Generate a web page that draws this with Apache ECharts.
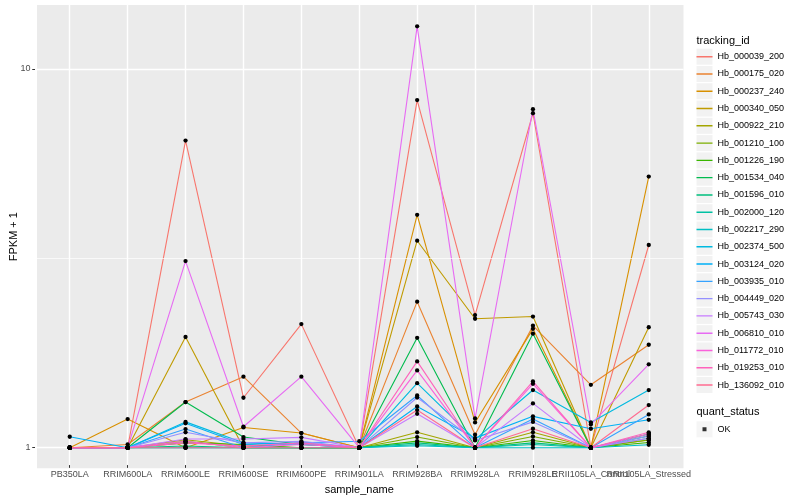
<!DOCTYPE html>
<html><head><meta charset="utf-8">
<script src="https://cdn.jsdelivr.net/npm/echarts@6/dist/echarts.min.js"></script>
<style>html,body{margin:0;padding:0;background:#fff}#c{width:800px;height:500px}</style>
</head><body><div id="c"></div>
<script>
// ---------- data ----------
const categories = ['PB350LA','RRIM600LA','RRIM600LE','RRIM600SE','RRIM600PE','RRIM901LA','RRIM928BA','RRIM928LA','RRIM928LE','RRII105LA_Control','RRII105LA_Stressed'];
const seriesNames = ['Hb_000039_200','Hb_000175_020','Hb_000237_240','Hb_000340_050','Hb_000922_210','Hb_001210_100','Hb_001226_190','Hb_001534_040','Hb_001596_010','Hb_002000_120','Hb_002217_290','Hb_002374_500','Hb_003124_020','Hb_003935_010','Hb_004449_020','Hb_005743_030','Hb_006810_010','Hb_011772_010','Hb_019253_010','Hb_136092_010'];
const seriesColors = ['#F8766D','#EA8331','#D89000','#C09B00','#A3A500','#7CAE00','#39B600','#00BB4E','#00BF7D','#00C1A3','#00BFC4','#00BAE0','#00B0F6','#35A2FF','#9590FF','#C77CFF','#E76BF3','#FA62DB','#FF62BC','#FF6C91'];
const yTickValues = [1, 10];
const yTickLabels = ['1', '10'];
const quantStatus = ['OK'];

const s01 = [1, 1, 6.47, 1.355, 2.12, 1, 8.28, 2.24, 7.64, 1, 3.43];
const s02 = [1, 1.02, 1.32, 1.54, 1.093, 1, 2.43, 1.082, 2.1, 1.466, 1.87];
const s03 = [1, 1.19, 1.0, 1.131, 1.093, 1, 4.12, 1.166, 2.06, 1, 5.2];
const s04 = [1, 1, 1.96, 1.0, 1.0, 1, 3.52, 2.19, 2.22, 1, 2.08];
const s05 = [1, 1, 1.05, 1.01, 1.0, 1, 1.098, 1.0, 1.098, 1, 1.048];
const s06 = [1, 1, 1.04, 1.0, 1.0, 1, 1.067, 1.0, 1.071, 1, 1.048];
const s07 = [1, 1, 1.03, 1.02, 1.0, 1, 1.041, 1.0, 1.045, 1, 1.032];
const s08 = [1, 1, 1.32, 1.067, 1.02, 1, 1.95, 1.0, 2.0, 1, 1.087];
const s09 = [1, 1, 1.01, 1.0, 1.0, 1, 1.03, 1.0, 1.03, 1, 1.074];
const s10 = [1, 1, 1.0, 1.0, 1.0, 1, 1.02, 1.0, 1.02, 1, 1.059];
const s11 = [1, 1, 1.0, 1.0, 1.0, 1, 1.012, 1.0, 1.0, 1, 1.018];
const s12 = [1, 1, 1.17, 1.03, 1.02, 1, 1.48, 1.05, 1.42, 1.166, 1.42];
const s13 = [1.069, 1, 1.16, 1.02, 1.03, 1, 1.285, 1.06, 1.21, 1.122, 1.185];
const s14 = [1, 1, 1.12, 1.0, 1.03, 1.04, 1.374, 1.0, 1.19, 1, 1.224];
const s15 = [1, 1, 1.098, 1.03, 1.04, 1, 1.357, 1.045, 1.17, 1, 1.074];
const s16 = [1, 1, 1.054, 1.054, 1.065, 1, 1.229, 1.0, 1.309, 1, 1.059];
const s17 = [1, 1, 3.11, 1.136, 1.54, 1, 12.96, 1.195, 7.83, 1.152, 1.66];
const s18 = [1, 1, 1.04, 1.0, 1.02, 1, 1.60, 1.0, 1.475, 1, 1.087];
const s19 = [1, 1, 1.03, 1.01, 1.03, 1, 1.69, 1.0, 1.496, 1, 1.098];
const s20 = [1, 1, 1.0, 1.0, 1.0, 1, 1.257, 1.0, 1.122, 1, 1.296];
const seriesValues = [s01,s02,s03,s04,s05,s06,s07,s08,s09,s10,s11,s12,s13,s14,s15,s16,s17,s18,s19,s20];

// ---------- layout ----------
const FONT = '"Liberation Sans", Arial, sans-serif';
const panel = {left: 35, right: 683.5, top: 5, bottom: 468.3};
const yOne = 447.7, yTen = 69;
const decade = yOne - yTen;
const step = (panel.right - panel.left) / (categories.length - 1 + 1.2);
const dataLeft = panel.left + 0.6 * step;
const dataWidth = (categories.length - 1) * step;

const lineIcon = 'path://M0,0h0.01v0.01h-0.01zM0,7.3h16v1.4h-16zM15.99,15.99h0.01v0.01h-0.01z';
const dotIcon = 'path://M0,0h0.01v0.01h-0.01zM6,6h4v4h-4zM15.99,15.99h0.01v0.01h-0.01z';

const chart = echarts.init(document.getElementById('c'), null, {renderer: 'canvas'});

const series = [{
  type: 'line', xAxisIndex: 1, yAxisIndex: 1, data: [], silent: true,
  markLine: {silent: true, symbol: ['none', 'none'], label: {show: false},
    lineStyle: {color: '#ffffff', width: 0.7, type: 'solid'},
    emphasis: {disabled: true},
    data: [{yAxis: Math.sqrt(10)}]}
}];
seriesNames.forEach((n, i) => {
  series.push({
    name: n, type: 'line', xAxisIndex: 3, yAxisIndex: 3,
    data: seriesValues[i], z: 3, clip: false, showAllSymbol: true,
    symbol: 'circle', symbolSize: 4.3,
    itemStyle: {color: '#000000'},
    lineStyle: {color: seriesColors[i], width: 1.1},
    emphasis: {disabled: true}, silent: true
  });
});
series.push({name: quantStatus[0], type: 'scatter', xAxisIndex: 3, yAxisIndex: 3, data: []});

const legendBase = {orient: 'vertical', left: 696.5, padding: 0, itemWidth: 16, itemHeight: 16, itemGap: 1.28, selectedMode: false};

chart.setOption({
  animation: false,
  backgroundColor: '#ffffff',
  textStyle: {fontFamily: FONT},
  title: [
    {text: 'tracking_id', left: 696.5, top: 34.5, padding: 0, textStyle: {fontSize: 11, fontWeight: 'normal', color: '#000', fontFamily: FONT, lineHeight: 12}},
    {text: 'quant_status', left: 696.5, top: 405.7, padding: 0, textStyle: {fontSize: 11, fontWeight: 'normal', color: '#000', fontFamily: FONT, lineHeight: 12}}
  ],
  grid: [
    {left: panel.left, top: panel.top, width: panel.right - panel.left, height: panel.bottom - panel.top, show: true, backgroundColor: '#EBEBEB', borderWidth: 0},
    {left: panel.left, top: yTen, width: panel.right - panel.left, height: decade},
    {left: dataLeft, top: panel.top, width: dataWidth, height: panel.bottom - panel.top},
    {left: dataLeft, top: yTen, width: dataWidth, height: decade}
  ],
  xAxis: [
    {gridIndex: 0, type: 'value', show: false},
    {gridIndex: 1, type: 'value', min: 0, max: 1, show: false},
    {gridIndex: 2, type: 'category', data: categories, boundaryGap: false,
      axisLine: {show: false},
      axisTick: {show: true, length: 2.75, interval: 0, lineStyle: {color: '#333333', width: 1}},
      axisLabel: {interval: 0, color: '#4D4D4D', fontSize: 9, margin: 5, fontFamily: FONT},
      splitLine: {show: true, interval: 0, lineStyle: {color: '#ffffff', width: 1.4}},
      name: 'sample_name', nameLocation: 'middle', nameGap: 13,
      nameTextStyle: {fontSize: 11, color: '#000', fontFamily: FONT}},
    {gridIndex: 3, type: 'category', data: categories, boundaryGap: false, show: false}
  ],
  yAxis: [
    {gridIndex: 0, type: 'value', show: true, axisLine: {show: false}, axisTick: {show: false},
      axisLabel: {show: false}, splitLine: {show: false},
      name: 'FPKM + 1', nameLocation: 'middle', nameGap: 18,
      nameTextStyle: {fontSize: 11, color: '#000', fontFamily: FONT}},
    {gridIndex: 1, type: 'log', logBase: 10, min: yTickValues[0], max: yTickValues[1],
      axisLine: {show: false},
      axisTick: {show: true, length: 2.75, lineStyle: {color: '#333333', width: 1}},
      axisLabel: {color: '#4D4D4D', fontSize: 9, margin: 4.5, fontFamily: FONT,
        formatter: v => { const k = yTickValues.findIndex(t => Math.abs(t - v) < 1e-6); return k >= 0 ? yTickLabels[k] : ''; }},
      splitLine: {show: true, lineStyle: {color: '#ffffff', width: 1.4}}},
    {gridIndex: 2, type: 'value', show: false},
    {gridIndex: 3, type: 'log', logBase: 10, min: yTickValues[0], max: yTickValues[1], show: false}
  ],
  legend: [
    Object.assign({}, legendBase, {top: 48.7, z: 1, icon: 'rect',
      data: seriesNames.map(n => ({name: n, itemStyle: {color: '#F2F2F2'}})),
      textStyle: {color: 'rgba(0,0,0,0)', fontSize: 9, fontFamily: FONT}}),
    Object.assign({}, legendBase, {top: 48.7, z: 2, icon: lineIcon,
      data: seriesNames.map((n, i) => ({name: n, itemStyle: {color: seriesColors[i], borderWidth: 0}})),
      textStyle: {color: '#000', fontSize: 9, fontFamily: FONT}}),
    Object.assign({}, legendBase, {top: 421.3, z: 1, icon: 'rect',
      data: [{name: quantStatus[0], itemStyle: {color: '#F2F2F2'}}],
      textStyle: {color: 'rgba(0,0,0,0)', fontSize: 9, fontFamily: FONT}}),
    Object.assign({}, legendBase, {top: 421.3, z: 2, icon: dotIcon,
      data: [{name: quantStatus[0], itemStyle: {color: '#000', borderWidth: 0}}],
      textStyle: {color: '#000', fontSize: 9, fontFamily: FONT}})
  ],
  series: series
});
</script></body></html>
